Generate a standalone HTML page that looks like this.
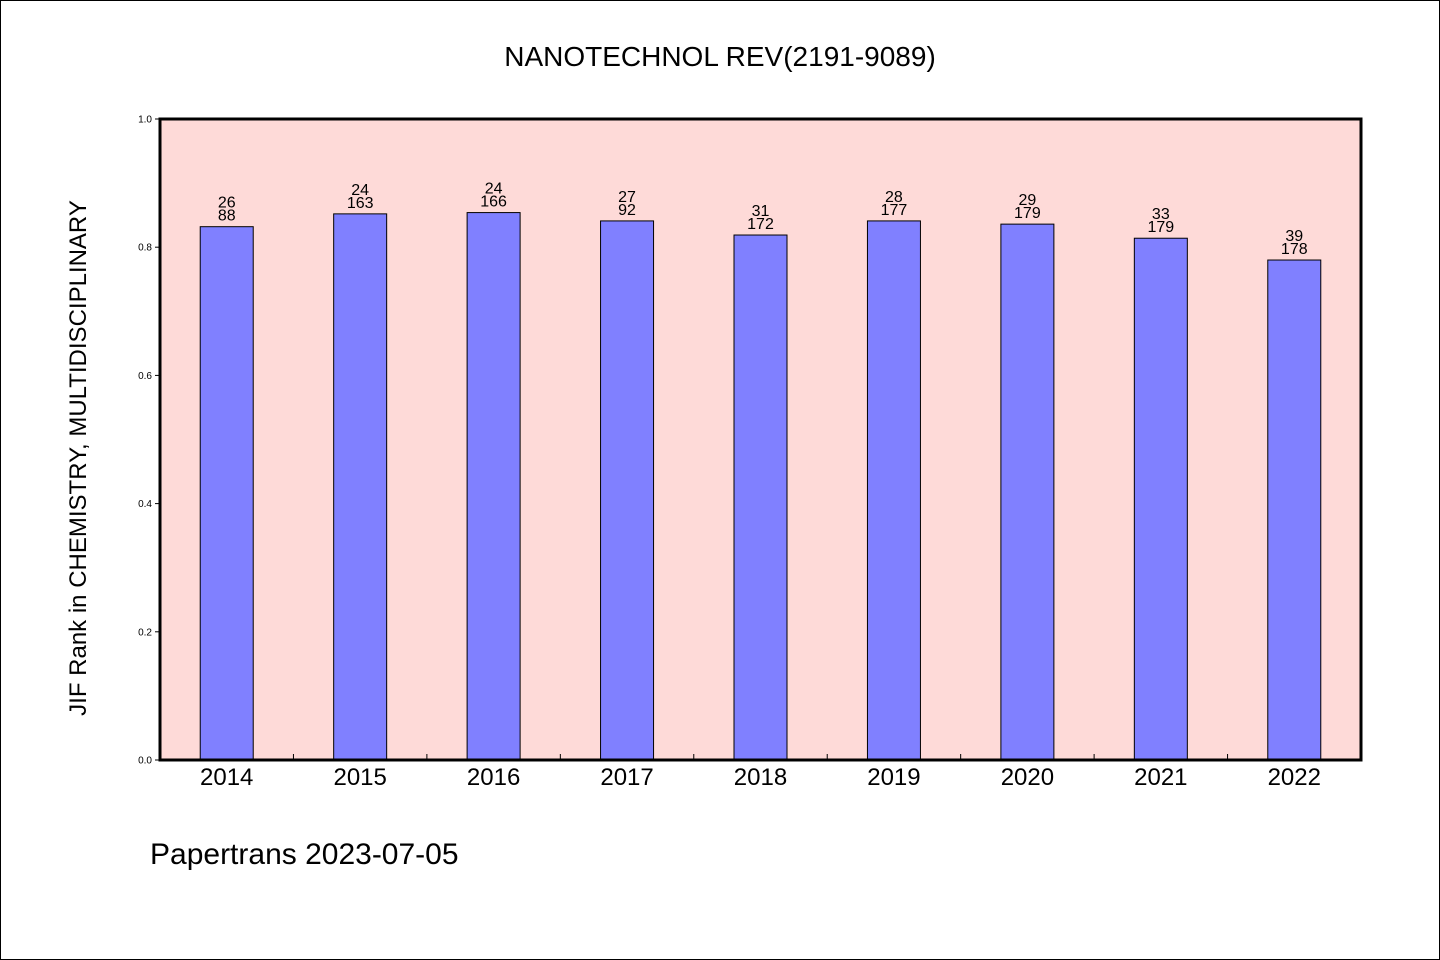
<!DOCTYPE html>
<html><head><meta charset="utf-8"><style>
body{margin:0;background:#fff}
svg{display:block}
text{font-family:"WenQuanYi Zen Hei","Liberation Sans",sans-serif}
</style></head><body>
<svg id="c" width="1440" height="960">
<rect x="0.5" y="0.5" width="1439" height="959" fill="#fff" stroke="#000"/>
<text x="720" y="66" font-size="28" text-anchor="middle">NANOTECHNOL REV(2191-9089)</text>
<rect x="160" y="119" width="1201" height="641" fill="#fedad8"/>
<g id="bars"></g>
<rect x="160" y="119" width="1201" height="641" fill="none" stroke="#000" stroke-width="3"/>
<text transform="translate(86,458) rotate(-90)" font-size="24" text-anchor="middle">JIF Rank in CHEMISTRY, MULTIDISCIPLINARY</text>
<text x="150" y="864" font-size="30">Papertrans 2023-07-05</text>
</svg>
<script>
const categories=["2014","2015","2016","2017","2018","2019","2020","2021","2022"];
const values=[0.832,0.852,0.854,0.841,0.819,0.841,0.836,0.814,0.780];
const ranks=["26","24","24","27","31","28","29","33","39"];
const totals=["88","163","166","92","172","177","179","179","178"];
const yTicks=[0,0.2,0.4,0.6,0.8,1.0];
const X0=160,X1=1361,Y0=760,Y1=119;
const bw=(X1-X0)/categories.length;
const xc=i=>X0+bw*(i+0.5);
const y=v=>Y0-(Y0-Y1)*v;
const ns="http://www.w3.org/2000/svg";
const g=document.getElementById('bars');
const svg=document.getElementById('c');
function mk(t,a,p){const e=document.createElementNS(ns,t);for(const k in a)e.setAttribute(k,a[k]);(p||g).appendChild(e);return e;}
categories.forEach((c,i)=>{
  const r=mk('rect',{x:xc(i)-26.5,y:y(values[i]),width:53,height:Y0-y(values[i]),fill:'#8080ff',stroke:'#000','stroke-width':1});
  
  
  const t1=mk('text',{x:xc(i),y:y(values[i])-19,'font-size':16,'text-anchor':'middle'});t1.textContent=ranks[i];
  
  
  const t2=mk('text',{x:xc(i),y:y(values[i])-6,'font-size':16,'text-anchor':'middle'});t2.textContent=totals[i];
  
  
  const xl=mk('text',{x:xc(i),y:785,'font-size':24,'text-anchor':'middle'},svg);xl.textContent=c;
  
  
  if(i>0){const tk=mk('line',{x1:X0+bw*i,x2:X0+bw*i,y1:Y0,y2:Y0-6,stroke:'#000'},svg);
  
  }
});
yTicks.forEach(v=>{
  const l=mk('line',{x1:155,x2:160,y1:y(v),y2:y(v),stroke:'#000'},svg);
  
  
  const t=mk('text',{x:152,y:y(v)+3.5,'font-size':10,'text-anchor':'end'},svg);t.textContent=v.toFixed(1);
  
  
});
</script>
</body></html>
